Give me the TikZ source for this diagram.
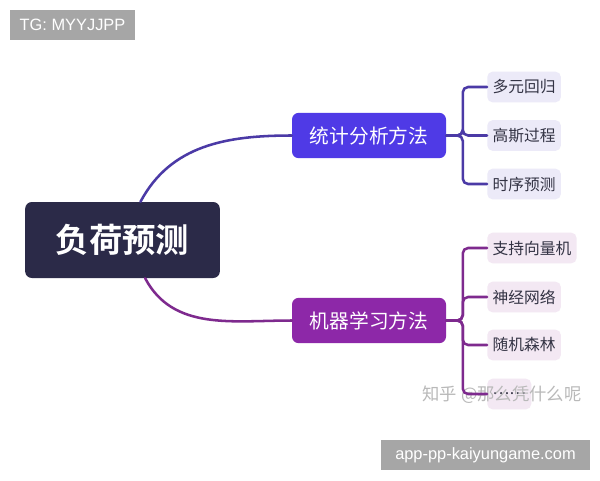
\documentclass[tikz,border=0pt]{standalone}
\usepackage{fontspec}
\usepackage{tikz}
\usetikzlibrary{arrows.meta}
\usetikzlibrary{positioning}
\setmainfont{Liberation Sans}
\newfontfamily\cjk{Noto Sans CJK SC}
\newfontfamily\cjkb{Noto Sans CJK SC Bold}
\definecolor{rootc}{HTML}{2B2A48}
\definecolor{statc}{HTML}{4F3AE6}
\definecolor{mlc}{HTML}{8D28A8}
\definecolor{statl}{HTML}{4B3AA6}
\definecolor{mll}{HTML}{7E2A8E}
\definecolor{statf}{HTML}{ECEAF8}
\definecolor{mlf}{HTML}{F3E8F3}
\definecolor{tagc}{HTML}{A6A6A6}
\definecolor{leaft}{HTML}{333344}

\begin{document}
\begin{tikzpicture}[x=0.75pt,y=-0.75pt]
        \useasboundingbox[fill=white] (0,0) rectangle (600,480);
        % tags
        \begin{scope}[every node/.style={fill=tagc,text=white,inner sep=0pt,font=\fontsize{12.3}{14}\selectfont}]
            \node[minimum width=93.75pt,minimum height=22.5pt] (tg) at (72.5,25) {TG: MYYJJPP};
            \node[minimum width=156.75pt,minimum height=22.5pt] (site) at (485.5,455) {app-pp-kaiyungame.com};
        \end{scope}
        % main nodes
        \begin{scope}[every node/.style={rounded corners=5pt,text=white,inner sep=0pt}]
            \node[fill=rootc,minimum width=146pt,minimum height=57pt,font=\cjkb\fontsize{25}{29}\selectfont] (root) at (122.5,240) {负荷预测};
            \node[fill=statc,minimum width=115.5pt,minimum height=34pt,font=\cjk\fontsize{14.8}{17}\selectfont] (stat) at (369,135.5) {统计分析方法};
            \node[fill=mlc,minimum width=115.5pt,minimum height=34pt,font=\cjk\fontsize{14.8}{17}\selectfont] (ml) at (369,320.5) {机器学习方法};
        \end{scope}
        % leaves
        \begin{scope}[every node/.style={rounded corners=4pt,text=leaft,anchor=west,inner xsep=4pt,minimum height=23pt,font=\cjk\fontsize{11.8}{14}\selectfont}]
            \node[fill=statf] (s1) at (487,87) {多元回归};
            \node[fill=statf] (s2) at (487,135.5) {高斯过程};
            \node[fill=statf] (s3) at (487,184) {时序预测};
            \node[fill=mlf] (m1) at (487,248) {支持向量机};
            \node[fill=mlf] (m2) at (487,297) {神经网络};
            \node[fill=mlf] (m3) at (487,345) {随机森林};
            \node[fill=mlf] (m4) at (487,394) {……};
        \end{scope}
        \node[text=gray!55,font=\cjk\fontsize{13}{15}\selectfont] (wm) at (502,395) {知乎 @那么凭什么呢};
        % connectors
        \begin{scope}[line width=1.9pt,line cap=round]
            \draw[statl] ([xshift=13.5pt]root.north) to[out=62,in=180] (stat.west);
            \draw[mll] ([xshift=17pt]root.south) to[out=-62,in=180] (ml.west);
            \foreach \l in {s1,s2,s3}
                \draw[statl,rounded corners=4pt] (stat.east) -- ++(16.5,0) |- (\l.west);
            \foreach \l in {m1,m2,m3,m4}
                \draw[mll,rounded corners=4pt] (ml.east) -- ++(16.5,0) |- (\l.west);
        \end{scope}
    \end{tikzpicture}
\end{document}
